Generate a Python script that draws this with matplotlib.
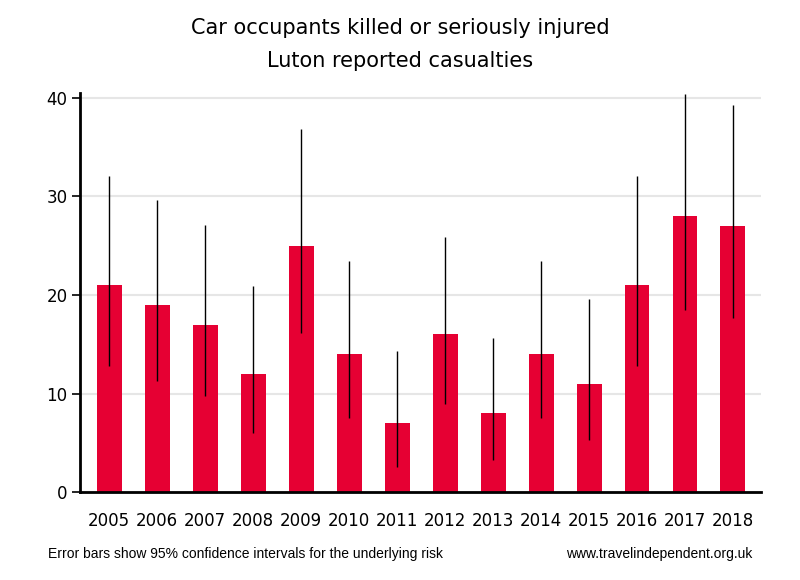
import matplotlib
matplotlib.use("Agg")
import matplotlib.pyplot as plt
import numpy as np

years = ["2005", "2006", "2007", "2008", "2009", "2010", "2011",
         "2012", "2013", "2014", "2015", "2016", "2017", "2018"]
values = [21, 19, 17, 12, 25, 14, 7, 16, 8, 14, 11, 21, 28, 27]
ci_low = [12.8, 11.3, 9.8, 6.0, 16.1, 7.5, 2.6, 9.0, 3.3, 7.5, 5.3, 12.8, 18.5, 17.7]
ci_high = [32.1, 29.6, 27.1, 20.9, 36.8, 23.4, 14.3, 25.9, 15.6, 23.4, 19.6, 32.1, 40.4, 39.3]

fig = plt.figure(figsize=(8, 5.8), dpi=100)
ax = fig.add_axes([0.1, 0.1512, 0.851, 0.688])

x = np.arange(len(years))
ax.bar(x, values, width=0.52, color="#e60033", zorder=2)
ax.vlines(x, ci_low, ci_high, color="black", linewidth=1.0, zorder=3)

ax.set_xlim(-0.61, 13.58)
ax.set_ylim(0, 40.45)
ax.set_yticks([0, 10, 20, 30, 40])
ax.set_xticks(x)
ax.set_xticklabels(years)
ax.yaxis.grid(True, color="#e6e6e6", linewidth=1.5, zorder=0)
ax.set_axisbelow(True)
for s in ["top", "right"]:
    ax.spines[s].set_visible(False)
ax.spines["left"].set_linewidth(2)
ax.spines["bottom"].set_linewidth(2)
ax.tick_params(axis="x", length=0, pad=14, labelsize=12)
ax.tick_params(axis="y", length=6, width=1.2, labelsize=12, pad=3)

fig.text(0.5, 0.952, "Car occupants killed or seriously injured", ha="center", va="center", fontsize=15)
fig.text(0.5, 0.895, "Luton reported casualties", ha="center", va="center", fontsize=15)
fig.text(0.06, 0.045, "Error bars show 95% confidence intervals for the underlying risk",
         ha="left", va="center", fontsize=10, family="Liberation Sans")
fig.text(0.94, 0.045, "www.travelindependent.org.uk",
         ha="right", va="center", fontsize=10, family="Liberation Sans")

fig.savefig("out.png", dpi=100)
